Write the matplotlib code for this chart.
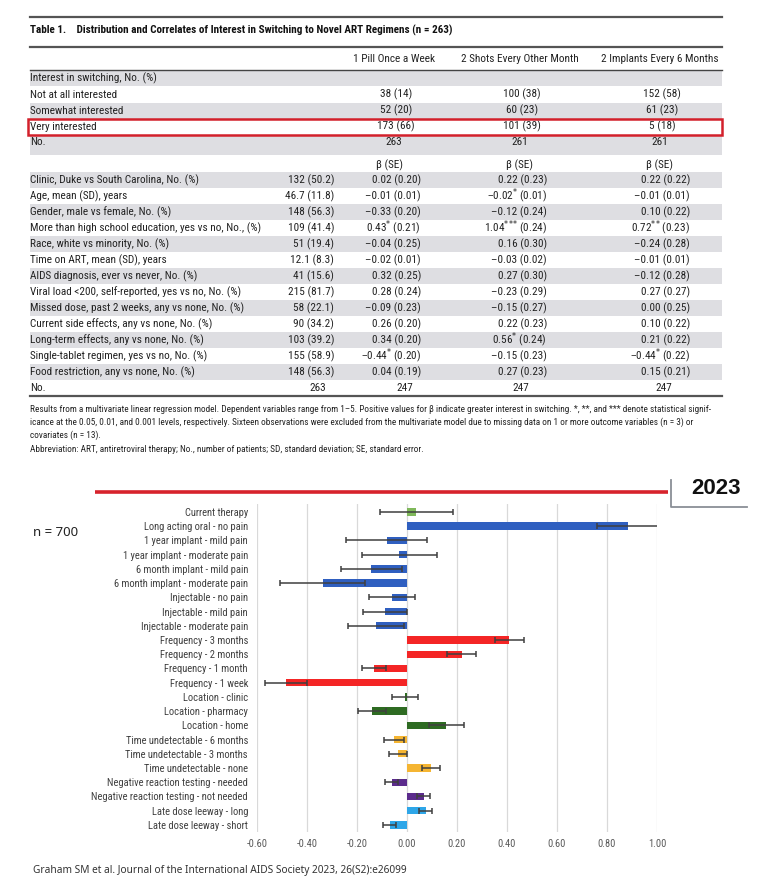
import numpy as np
import matplotlib
matplotlib.use("Agg")
import matplotlib.pyplot as plt
from matplotlib import font_manager as fm
from matplotlib.patches import Rectangle

# ---------------- data ----------------
table_title = "Table 1.    Distribution and Correlates of Interest in Switching to Novel ART Regimens (n = 263)"
regimens = ["1 Pill Once a Week", "2 Shots Every Other Month", "2 Implants Every 6 Months"]
interest_header = "Interest in switching, No. (%)"
interest_levels = ["Not at all interested", "Somewhat interested", "Very interested"]
pill_n = [38, 52, 173]
pill_pct = [14, 20, 66]
shots_n = [100, 60, 101]
shots_pct = [38, 23, 39]
implant_n = [152, 61, 5]
implant_pct = [58, 23, 18]
interest_totals = [263, 261, 261]

correlates = [
    "Clinic, Duke vs South Carolina, No. (%)",
    "Age, mean (SD), years",
    "Gender, male vs female, No. (%)",
    "More than high school education, yes vs no, No., (%)",
    "Race, white vs minority, No. (%)",
    "Time on ART, mean (SD), years",
    "AIDS diagnosis, ever vs never, No. (%)",
    "Viral load <200, self-reported, yes vs no, No. (%)",
    "Missed dose, past 2 weeks, any vs none, No. (%)",
    "Current side effects, any vs none, No. (%)",
    "Long-term effects, any vs none, No. (%)",
    "Single-tablet regimen, yes vs no, No. (%)",
    "Food restriction, any vs none, No. (%)",
]
descriptives = ["132 (50.2)", "46.7 (11.8)", "148 (56.3)", "109 (41.4)", "51 (19.4)",
                "12.1 (8.3)", "41 (15.6)", "215 (81.7)", "58 (22.1)", "90 (34.2)",
                "103 (39.2)", "155 (58.9)", "148 (56.3)"]
pill_beta = [0.02, -0.01, -0.33, 0.43, -0.04, -0.02, 0.32, 0.28, -0.09, 0.26, 0.34, -0.44, 0.04]
pill_se = [0.20, 0.01, 0.20, 0.21, 0.25, 0.01, 0.25, 0.24, 0.23, 0.20, 0.20, 0.20, 0.19]
pill_sig = ["", "", "", "*", "", "", "", "", "", "", "", "*", ""]
shots_beta = [0.22, -0.02, -0.12, 1.04, 0.16, -0.03, 0.27, -0.23, -0.15, 0.22, 0.56, -0.15, 0.27]
shots_se = [0.23, 0.01, 0.24, 0.24, 0.30, 0.02, 0.30, 0.29, 0.27, 0.23, 0.24, 0.23, 0.23]
shots_sig = ["", "*", "", "***", "", "", "", "", "", "", "*", "", ""]
implant_beta = [0.22, -0.01, 0.10, 0.72, -0.24, -0.01, -0.12, 0.27, 0.00, 0.10, 0.21, -0.44, 0.15]
implant_se = [0.22, 0.01, 0.22, 0.23, 0.28, 0.01, 0.28, 0.27, 0.25, 0.22, 0.22, 0.22, 0.21]
implant_sig = ["", "", "", "**", "", "", "", "", "", "", "", "*", ""]
model_totals = [263, 247, 247, 247]

footnote_lines = [
    "Results from a multivariate linear regression model. Dependent variables range from 1\u20135. Positive values for \u03b2 indicate greater interest in switching. *, **, and *** denote statistical signif-",
    "icance at the 0.05, 0.01, and 0.001 levels, respectively. Sixteen observations were excluded from the multivariate model due to missing data on 1 or more outcome variables (n = 3) or",
    "covariates (n = 13).",
]
abbreviation = "Abbreviation: ART, antiretroviral therapy; No., number of patients; SD, standard deviation; SE, standard error."

year_label = "2023"
sample_label = "n = 700"
citation = "Graham SM et al. Journal of the International AIDS Society 2023, 26(S2):e26099"

attributes = [
    "Current therapy",
    "Long acting oral - no pain",
    "1 year implant - mild pain",
    "1 year implant - moderate pain",
    "6 month implant - mild pain",
    "6 month implant - moderate pain",
    "Injectable - no pain",
    "Injectable - mild pain",
    "Injectable - moderate pain",
    "Frequency - 3 months",
    "Frequency - 2 months",
    "Frequency - 1 month",
    "Frequency - 1 week",
    "Location - clinic",
    "Location - pharmacy",
    "Location - home",
    "Time undetectable - 6 months",
    "Time undetectable - 3 months",
    "Time undetectable - none",
    "Negative reaction testing - needed",
    "Negative reaction testing - not needed",
    "Late dose leeway - long",
    "Late dose leeway - short",
]
utility = [0.037, 0.885, -0.082, -0.031, -0.143, -0.338, -0.060, -0.089, -0.125,
           0.409, 0.218, -0.133, -0.485, -0.009, -0.141, 0.157,
           -0.054, -0.037, 0.095, -0.062, 0.066, 0.075, -0.070]
utility_err = [0.145, 0.125, 0.162, 0.150, 0.122, 0.171, 0.091, 0.087, 0.111,
               0.057, 0.057, 0.047, 0.085, 0.053, 0.057, 0.071,
               0.040, 0.036, 0.035, 0.026, 0.026, 0.026, 0.026]
attribute_group = ["current"] + ["mode"] * 8 + ["frequency"] * 4 + ["location"] * 3 + \
                  ["undetectable"] * 3 + ["reaction"] * 2 + ["leeway"] * 2
x_ticks = [-0.6, -0.4, -0.2, 0.0, 0.2, 0.4, 0.6, 0.8, 1.0]
x_tick_labels = ["-0.60", "-0.40", "-0.20", "0.00", "0.20", "0.40", "0.60", "0.80", "1.00"]

# ---------------- styling ----------------
group_colors = {
    "current": "#7fb85a",
    "mode": "#2f5fc0",
    "frequency": "#f42525",
    "location": "#2e6b22",
    "undetectable": "#f5b532",
    "reaction": "#5b2b8c",
    "leeway": "#2ea6e8",
}


def pick(cands):
    for c in cands:
        try:
            fm.findfont(fm.FontProperties(family=c), fallback_to_default=False)
            return c
        except Exception:
            pass
    return "DejaVu Sans"


NARROW = pick(["Liberation Sans Narrow", "Roboto Condensed", "Arial Narrow", "Liberation Sans"])
SANS = pick(["Noto Sans", "Open Sans", "Liberation Sans"])
plt.rcParams["font.family"] = [NARROW, "DejaVu Sans"]
plt.rcParams["mathtext.fontset"] = "dejavusans"

W, H = 769, 891
fig = plt.figure(figsize=(W / 100, H / 100), dpi=100)
fig.patch.set_facecolor("white")

# canvas axes in pixel coordinates
cv = fig.add_axes([0, 0, 1, 1])
cv.set_xlim(0, W)
cv.set_ylim(H, 0)
cv.axis("off")

TXT = "#222222"
BAND = "#dedee2"
L, R = 30, 722
fs = 8.1

# table lines
cv.plot([L, R], [17, 17], color="#555555", lw=1.6)
cv.plot([L, R], [47, 47], color="#555555", lw=1.6)
cv.plot([L, R], [70, 70], color="#444444", lw=1.0)
cv.plot([L, R], [396, 396], color="#555555", lw=1.6)

cv.text(L, 30, table_title, fontsize=8.0, fontweight="bold", va="center", ha="left", color="#111111")

col_centers = [394, 520, 660]
for name, cx in zip(regimens, col_centers):
    cv.text(cx, 59, name, fontsize=fs, ha="center", va="center", color=TXT)

# shaded bands top section
row_h = 16
top_rows_y = [78, 94.5, 110.5, 126.5, 142]
for yb in [78, 110.5]:
    cv.add_patch(Rectangle((L, yb - row_h / 2), R - L, row_h, color=BAND, lw=0, zorder=0))
cv.add_patch(Rectangle((L, 134.5), R - L, 20, color=BAND, lw=0, zorder=0))

cv.text(L, top_rows_y[0], interest_header, fontsize=fs, va="center", color=TXT)
for i, lab in enumerate(interest_levels):
    y = top_rows_y[i + 1]
    cv.text(L, y, lab, fontsize=fs, va="center", color=TXT)
    for cx, n, p in zip(col_centers, [pill_n[i], shots_n[i], implant_n[i]],
                        [pill_pct[i], shots_pct[i], implant_pct[i]]):
        cv.text(cx + 2, y, f"{n} ({p})", fontsize=fs, ha="center", va="center", color=TXT)
cv.text(L, top_rows_y[4], "No.", fontsize=fs, va="center", color=TXT)
for cx, n in zip(col_centers, interest_totals):
    cv.text(cx, top_rows_y[4], f"{n}", fontsize=fs, ha="center", va="center", color=TXT)

# red highlight box
cv.add_patch(Rectangle((28, 118.5), 694, 16.5, fill=False, edgecolor="#d3202b", lw=1.8, zorder=5))

# beta header
for cx in [390, 519, 660]:
    cv.text(cx, 165, "\u03b2 (SE)", fontsize=fs, ha="center", va="center", color=TXT)

beta_right = [421, 547, 690]
desc_right = 334
y0 = 180
for i, lab in enumerate(correlates):
    y = y0 + 16 * i
    if i % 2 == 0:
        cv.add_patch(Rectangle((L, y - 8), R - L, 16, color=BAND, lw=0, zorder=0))
    cv.text(L, y, lab, fontsize=fs, va="center", color=TXT)
    cv.text(desc_right, y, descriptives[i], fontsize=fs, ha="right", va="center", color=TXT)
    for xr, b, s, sg in zip(beta_right, [pill_beta[i], shots_beta[i], implant_beta[i]],
                            [pill_se[i], shots_se[i], implant_se[i]],
                            [pill_sig[i], shots_sig[i], implant_sig[i]]):
        bs = f"{abs(b):.2f}"
        if b < 0:
            bs = "\u2013" + bs
        if sg:
            bs = bs + "$^{*}$" * len(sg)
        cv.text(xr, y, f"{bs} ({s:.2f})", fontsize=fs, ha="right", va="center", color=TXT)
yN = y0 + 16 * len(correlates)
cv.text(L, yN, "No.", fontsize=fs, va="center", color=TXT)
for xc, n in zip([318, 405, 521, 664], model_totals):
    cv.text(xc, yN, f"{n}", fontsize=fs, ha="center", va="center", color=TXT)

for k, line in enumerate(footnote_lines):
    cv.text(L, 409 + 13 * k, line, fontsize=6.7, va="center", ha="left", color=TXT)
cv.text(L, 450, abbreviation, fontsize=6.7, va="center", ha="left", color=TXT)

# red rule and year box
cv.plot([95, 668], [492, 492], color="#d7232c", lw=2.6, solid_capstyle="butt")
cv.plot([670.5, 670.5, 747], [480, 507, 507], color="#8a8f96", lw=1.3)
cv.text(716, 489, year_label, fontsize=16, fontweight="bold", ha="center", va="center",
        color="#111111", family="Liberation Sans")

cv.text(33, 533, sample_label, fontsize=9.5, ha="left", va="center", color="#222222", family=SANS)
cv.text(33, 871, citation, fontsize=7.3, ha="left", va="center", color="#333333", family=SANS)

# ---------------- bar chart ----------------
ax_top, ax_bot, ax_l, ax_r = 504, 832, 257, 657
ax = fig.add_axes([ax_l / W, 1 - ax_bot / H, (ax_r - ax_l) / W, (ax_bot - ax_top) / H])
ax.patch.set_alpha(0)
ypos = np.arange(len(attributes))
colors = [group_colors[g] for g in attribute_group]
ax.barh(ypos, utility, height=0.52, color=colors, xerr=utility_err, zorder=2,
        error_kw=dict(ecolor="#3f3f3f", elinewidth=1.1, capsize=2.2, capthick=1.1, zorder=3))
ax.set_xlim(-0.6, 1.0)
ax.set_ylim(22.5, -0.56)
ax.set_xticks(x_ticks)
ax.set_xticklabels(x_tick_labels, fontsize=7.5, color="#595959")
ax.set_yticks(ypos)
ax.set_yticklabels(attributes, fontsize=7.6, color="#404040")
ax.tick_params(axis="both", length=0)
ax.tick_params(axis="x", pad=5)
ax.tick_params(axis="y", pad=6.5)
for s in ax.spines.values():
    s.set_visible(False)
ax.grid(axis="x", color="#d9d9d9", lw=0.9, zorder=0)
ax.set_axisbelow(True)

fig.savefig("out.png", dpi=100, facecolor="white")
